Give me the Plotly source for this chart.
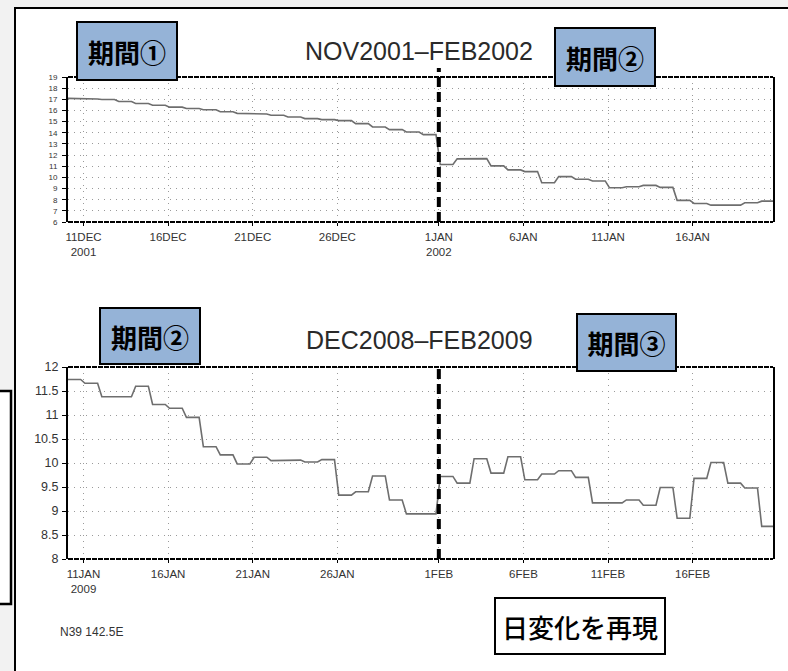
import plotly.graph_objects as go
from datetime import datetime, timedelta

W, H = 788, 671

# ---- Daily values, NOV2001-FEB2002 panel (10 Dec 2001 .. 20 Jan 2002) ----
top_start = "2001-12-10"
top_values = [
    17.08, 17.03, 16.98, 16.80, 16.63, 16.47, 16.30, 16.17, 16.06, 15.88,
    15.74, 15.68, 15.57, 15.42, 15.27, 15.18, 15.09, 14.82, 14.52, 14.28,
    14.07, 13.83, 11.15, 11.66, 11.68, 11.03, 10.67, 10.52, 9.52, 10.07,
    9.83, 9.68, 9.07, 9.16, 9.28, 9.10, 7.94, 7.66, 7.51, 7.51,
    7.72, 7.87,
]
top_tick_dates = ["2001-12-11", "2001-12-16", "2001-12-21", "2001-12-26",
                  "2002-01-01", "2002-01-06", "2002-01-11", "2002-01-16"]
top_tick_text = ["11DEC<br>2001", "16DEC", "21DEC", "26DEC",
                 "1JAN<br>2002", "6JAN", "11JAN", "16JAN"]
top_yticks = [6, 7, 8, 9, 10, 11, 12, 13, 14, 15, 16, 17, 18, 19]
top_range = ["2001-12-10 02:00", "2002-01-20 18:00"]
top_split = "2002-01-01"

# ---- Daily values, DEC2008-FEB2009 panel (10 Jan 2009 .. 20 Feb 2009) ----
bottom_start = "2009-01-10"
bottom_values = [
    11.74, 11.66, 11.38, 11.38, 11.60, 11.22, 11.14, 10.95, 10.34, 10.17,
    9.98, 10.12, 10.05, 10.06, 10.02, 10.07, 9.33, 9.40, 9.73, 9.23,
    8.94, 8.94, 9.72, 9.58, 10.09, 9.79, 10.13, 9.65, 9.77, 9.84,
    9.70, 9.17, 9.17, 9.23, 9.12, 9.49, 8.85, 9.68, 10.01, 9.58,
    9.48, 8.68,
]
bottom_tick_dates = ["2009-01-11", "2009-01-16", "2009-01-21", "2009-01-26",
                     "2009-02-01", "2009-02-06", "2009-02-11", "2009-02-16"]
bottom_tick_text = ["11JAN<br>2009", "16JAN", "21JAN", "26JAN",
                    "1FEB", "6FEB", "11FEB", "16FEB"]
bottom_yticks = [8, 8.5, 9, 9.5, 10, 10.5, 11, 11.5, 12]
bottom_range = ["2009-01-10 02:00", "2009-02-20 18:00"]
bottom_split = "2009-02-01"


def daily_steps(start, values):
    """Each daily value is held through the day and ramps to the next one."""
    t0 = datetime.fromisoformat(start)
    xs, ys = [], []
    for i, v in enumerate(values):
        day = t0 + timedelta(days=i)
        xs += [day + timedelta(hours=2), day + timedelta(hours=20)]
        ys += [v, v]
    return xs, ys


def px_x(x):
    return x / W


def px_y(y):
    return 1 - y / H


SANS = "Liberation Sans, Arial, sans-serif"
JP = "Noto Sans CJK JP, sans-serif"
LINE_COLOR = "#6e6e6e"
GRID = dict(showgrid=True, gridcolor="#9a9a9a", gridwidth=1, griddash="1px,5px")

fig = go.Figure()

tx, ty = daily_steps(top_start, top_values)
bx, by = daily_steps(bottom_start, bottom_values)
fig.add_trace(go.Scatter(x=tx, y=ty, mode="lines", xaxis="x", yaxis="y",
                         line=dict(color=LINE_COLOR, width=1.6), showlegend=False,
                         hoverinfo="skip"))
fig.add_trace(go.Scatter(x=bx, y=by, mode="lines", xaxis="x2", yaxis="y2",
                         line=dict(color=LINE_COLOR, width=1.6), showlegend=False,
                         hoverinfo="skip"))

xdom = [px_x(68), px_x(773)]
common_x = dict(type="date", ticks="outside", ticklen=3, tickcolor="black",
                ticklabelstandoff=1,
                tickfont=dict(family=SANS, size=11.5, color="#333"),
                zeroline=False, showline=False, automargin=False, **GRID)
common_y = dict(ticks="outside", ticklen=4, tickcolor="black",
                zeroline=False, showline=True, mirror=True, linecolor="black",
                linewidth=2, automargin=False, **GRID)

fig.update_layout(
    width=W, height=H, template="none",
    margin=dict(l=0, r=0, t=0, b=0),
    paper_bgcolor="#f2f2f2", plot_bgcolor="white",
    showlegend=False,
    xaxis=dict(domain=xdom, anchor="y", range=top_range,
               tickvals=top_tick_dates, ticktext=top_tick_text, **common_x),
    yaxis=dict(domain=[px_y(222), px_y(77)], anchor="x", range=[6, 19],
               tickvals=top_yticks, ticklabelstandoff=3,
               tickfont=dict(family=SANS, size=8, color="#333"), **common_y),
    xaxis2=dict(domain=xdom, anchor="y2", range=bottom_range,
                tickvals=bottom_tick_dates, ticktext=bottom_tick_text, **common_x),
    yaxis2=dict(domain=[px_y(559), px_y(367)], anchor="x2", range=[8, 12],
                tickvals=bottom_yticks, ticklabelstandoff=1,
                tickfont=dict(family=SANS, size=12.5, color="#333"), **common_y),
)

shapes = [
    # white sheet with its frame
    dict(type="rect", xref="paper", yref="paper", layer="below",
         x0=px_x(15), x1=px_x(800), y0=px_y(690), y1=px_y(8),
         fillcolor="white", line=dict(color="black", width=2)),
    # side box on the left edge
    dict(type="rect", xref="paper", yref="paper", layer="below",
         x0=px_x(-5), x1=px_x(11), y0=px_y(604), y1=px_y(391),
         fillcolor="white", line=dict(color="black", width=2.5)),
]
# dashed top / bottom frame edges of both panels
for xr, yr in (("x domain", "y domain"), ("x2 domain", "y2 domain")):
    for yy in (0, 1):
        shapes.append(dict(type="line", xref=xr, yref=yr, x0=0, x1=1, y0=yy, y1=yy,
                           line=dict(color="black", width=2, dash="5px,1px")))
# period boundaries
shapes.append(dict(type="line", xref="x", yref="y domain", x0=top_split, x1=top_split,
                   y0=0, y1=1.062, line=dict(color="black", width=4, dash="10px,5px")))
shapes.append(dict(type="line", xref="x2", yref="y2 domain", x0=bottom_split,
                   x1=bottom_split, y0=0, y1=1,
                   line=dict(color="black", width=4, dash="10px,5px")))
fig.update_layout(shapes=shapes)

annotations = [
    dict(text="NOV2001\u2013FEB2002", x=px_x(419), y=px_y(51),
         font=dict(family=SANS, size=25, color="#2a2a2a")),
    dict(text="DEC2008\u2013FEB2009", x=px_x(419), y=px_y(340),
         font=dict(family=SANS, size=25, color="#2a2a2a")),
    dict(text="N39 142.5E", x=px_x(58), y=px_y(632), xanchor="left",
         font=dict(family=SANS, size=12, color="#333")),
]
for a in annotations:
    a.update(xref="paper", yref="paper", showarrow=False)
    a.setdefault("xanchor", "center")
    a.setdefault("yanchor", "middle")

# period label boxes: (text, left, top, right, bottom)
period_boxes = [
    ("期間①", 76, 21, 178, 81),
    ("期間②", 554, 27, 656, 87),
    ("期間②", 99, 307, 201, 365),
    ("期間③", 576, 313, 677, 372),
]
for text, x0, y0, x1, y1 in period_boxes:
    annotations.append(dict(
        text=text, xref="paper", yref="paper", showarrow=False,
        x=px_x(x0), y=px_y(y0), xanchor="left", yanchor="top",
        width=x1 - x0 - 4, height=y1 - y0 - 4, borderpad=0,
        bgcolor="#95b3d7", bordercolor="black", borderwidth=2,
        font=dict(family=JP, size=26, color="black", weight="bold"),
    ))
annotations.append(dict(
    text="日変化を再現", xref="paper", yref="paper", showarrow=False,
    x=px_x(494), y=px_y(597), xanchor="left", yanchor="top",
    width=168, height=54, borderpad=0,
    bgcolor="white", bordercolor="black", borderwidth=2,
    font=dict(family=JP, size=26, color="black", weight=500),
))
fig.update_layout(annotations=annotations)

fig.write_html("out.html")
